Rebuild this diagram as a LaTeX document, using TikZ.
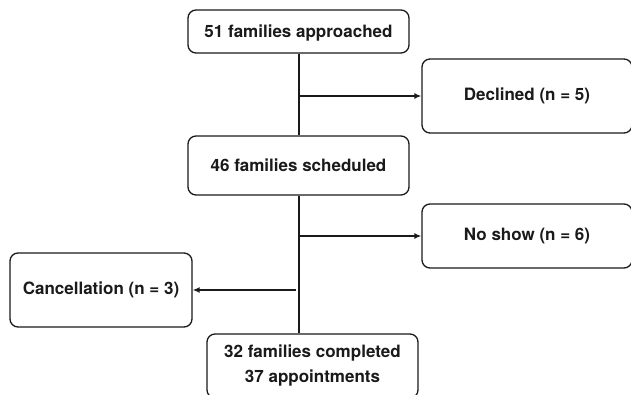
\documentclass[tikz,border=0pt]{standalone}
\usepackage{fontspec}
\setmainfont{TeX Gyre Heros}
\usepackage{xcolor}
\usetikzlibrary{arrows.meta,positioning}
\definecolor{ink}{HTML}{1A1A1A}

\begin{document}
\begin{tikzpicture}[
  x=1pt, y=-1pt,
  font=\fontsize{17}{25}\selectfont\bfseries,
  box/.style={draw=ink, line width=1.3pt, fill=white, rounded corners=8pt, inner sep=4pt, align=center, text=ink},
  arr/.style={-{Latex[length=7pt, width=6pt]}, color=ink, line width=2.0pt},
  link/.style={color=ink, line width=2.0pt}
]
\useasboundingbox (0,0) rectangle (631,395);
\node[box, minimum width=221pt, minimum height=43pt, text depth=1pt] (app) at (298.5,31.5) {51 families approached};
\node[box, minimum width=210pt, minimum height=74pt] (dec) at (527,96) {Declined (n = 5)};
\node[box, minimum width=221pt, minimum height=59pt] (sch) at (298.5,165.5) {46 families scheduled};
\node[box, minimum width=210pt, minimum height=64pt] (nos) at (527,236) {No show (n = 6)};
\node[box, minimum width=182pt, minimum height=74pt] (can) at (101,290) {Cancellation (n = 3)};
\node[box, minimum width=211pt, minimum height=64pt] (com) at (312.5,366) {32 families completed\\37 appointments};

\draw[link] (app.south) -- (sch.north);
\draw[arr] (app.south |- dec) -- (dec.west);
\draw[link] (sch.south) -- (sch.south |- com.north);
\draw[arr] (sch.south |- nos) -- (nos.west);
\draw[arr] ([xshift=-3pt]sch.south |- can) -- (can.east);
\end{tikzpicture}
\end{document}
